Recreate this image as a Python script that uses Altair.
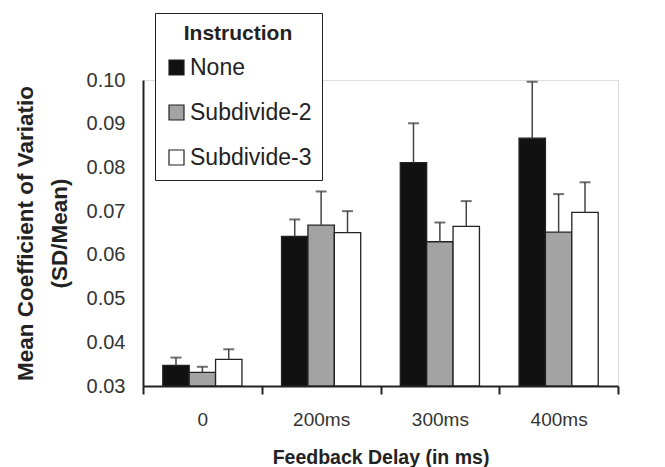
import altair as alt
import pandas as pd

delays = ["0", "200ms", "300ms", "400ms"]
instructions = ["None", "Subdivide-2", "Subdivide-3"]
means_none = [0.0347, 0.0642, 0.0811, 0.0867]
means_sub2 = [0.0331, 0.0668, 0.0630, 0.0652]
means_sub3 = [0.0361, 0.0651, 0.0665, 0.0697]
upper_none = [0.0365, 0.0681, 0.0901, 0.0996]
upper_sub2 = [0.0344, 0.0745, 0.0674, 0.0739]
upper_sub3 = [0.0384, 0.0700, 0.0723, 0.0766]
y_ticks = [0.03, 0.04, 0.05, 0.06, 0.07, 0.08, 0.09, 0.10]
colors = ["#111111", "#a3a3a3", "#ffffff"]

rows = []
for inst, ms, us in zip(instructions, [means_none, means_sub2, means_sub3],
                        [upper_none, upper_sub2, upper_sub3]):
    for d, m, u in zip(delays, ms, us):
        rows.append({"delay": d, "instruction": inst, "mean": m, "upper": u})
df = pd.DataFrame(rows)

FONT = "Liberation Sans"

x = alt.X("delay:N", sort=delays,
          scale=alt.Scale(paddingInner=0, paddingOuter=0),
          axis=alt.Axis(title="Feedback Delay (in ms)", labelAngle=0,
                        tickBand="extent", tickSize=8, tickWidth=2,
                        tickColor="#222", domainColor="#222", domainWidth=2,
                        labelFontSize=19, labelColor="#333", labelPadding=16,
                        labelFont=FONT, titleFont=FONT, titleFontSize=19.5,
                        titleFontWeight="bold", titleColor="#222",
                        titlePadding=19))
xo = alt.XOffset("instruction:N", sort=instructions,
                 scale=alt.Scale(paddingInner=0, paddingOuter=0.75))
yscale = alt.Scale(domain=[0.03, 0.10], nice=False, zero=False)

bars = alt.Chart(df).mark_bar(stroke="#222", strokeWidth=1.3).encode(
    x=x,
    xOffset=xo,
    y=alt.Y("mean:Q", scale=yscale,
            axis=alt.Axis(title=["Mean Coefficient of Variatio", "(SD/Mean)"],
                          values=y_ticks, format=".2f", ticks=False, grid=False,
                          domainColor="#222", domainWidth=2,
                          labelFontSize=20, labelColor="#333", labelPadding=18,
                          labelFont=FONT, titleFont=FONT, titleFontSize=22.5,
                          titleFontWeight="bold", titleColor="#222",
                          titlePadding=15, titleLineHeight=34)),
    y2=alt.datum(0.03),
    fill=alt.Fill("instruction:N", sort=instructions,
                  scale=alt.Scale(domain=instructions, range=colors),
                  legend=alt.Legend(title="Instruction", orient="none",
                                    legendX=12, legendY=-67,
                                    strokeColor="#222", fillColor="white",
                                    padding=10, symbolType="square",
                                    symbolSize=225, symbolStrokeColor="#222",
                                    symbolStrokeWidth=1.2,
                                    labelFont=FONT, labelFontSize=23,
                                    labelColor="#222", titleFont=FONT,
                                    titleFontSize=21, titleFontWeight="bold",
                                    titleColor="#222", rowPadding=21,
                                    titlePadding=12, labelOffset=2,
                                    titleAnchor="middle")),
)

rules = alt.Chart(df).mark_rule(color="#444", strokeWidth=1.5).encode(
    x=x, xOffset=xo, y=alt.Y("mean:Q", scale=yscale), y2="upper:Q")
caps = alt.Chart(df).mark_tick(color="#333", size=11, thickness=2).encode(
    x=x, xOffset=xo, y=alt.Y("upper:Q", scale=yscale))

chart = alt.layer(bars, rules, caps).properties(
    width=475, height=306,
    autosize=alt.AutoSizeParams(type="none"),
    padding={"left": 143, "top": 80, "right": 47, "bottom": 81},
).configure_view(stroke=None).configure(background="white")

chart.save("out.html", embed_options={"renderer": "svg", "actions": False})
